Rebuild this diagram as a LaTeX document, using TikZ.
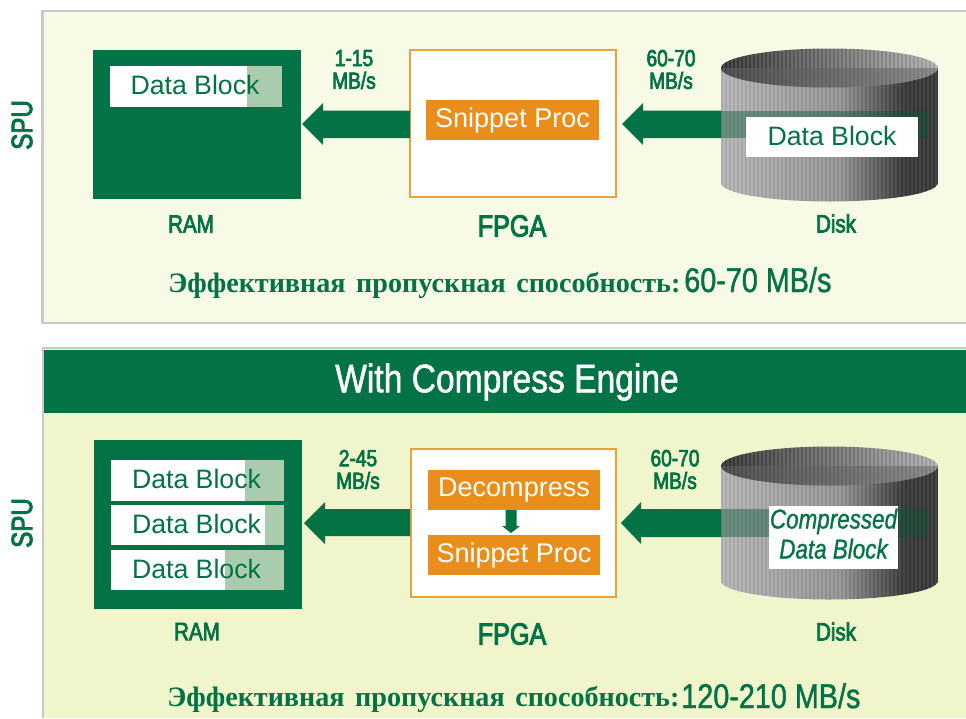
\documentclass[tikz,border=0pt]{standalone}
\usepackage{fontspec}
\setmainfont{Liberation Sans}
\newfontfamily\cnd[FakeStretch=0.84,FakeBold=1.2]{Liberation Sans}
\newfontfamily\cndb[FakeStretch=0.82,FakeBold=3]{Liberation Sans}
\newfontfamily\cndi[FakeStretch=0.82,FakeBold=1]{Liberation Sans Italic}
\newfontfamily\rus[WordSpace=1.5]{Liberation Serif Bold}
\definecolor{gr}{HTML}{037244}
\definecolor{orng}{HTML}{E98E1A}
\definecolor{pale}{HTML}{A8CCAD}
\definecolor{pnlA}{HTML}{F7FAE5}
\definecolor{pnlB}{HTML}{F1F5CC}
\definecolor{edge}{HTML}{C9C9C7}
\tikzset{
 x=0.75pt,y=-0.75pt,
 lbl/.style={text=gr,inner sep=0,align=center},
 ramlbl/.style={lbl,font=\cndb\fontsize{18.8}{18}\selectfont},
 fpgalbl/.style={lbl,font=\cndb\fontsize{23}{23}\selectfont},
 rate/.style={lbl,font=\cndb\fontsize{17.5}{17}\selectfont},
 spu/.style={lbl,font=\cndb\fontsize{22}{22}\selectfont,rotate=90},
 blk/.style={lbl,font=\fontsize{20}{20}\selectfont},
 proc/.style={inner sep=0,outer sep=0,text=white,font=\fontsize{20.3}{20}\selectfont},
 big/.style={lbl,font=\cnd\fontsize{25.7}{25}\selectfont},
 rusl/.style={lbl,font=\rus\fontsize{21.1}{21}\selectfont},
}
\newcommand{\whitebar}[6]{% name x0 y0 x1 y1 shadeX
 \fill[white] (#2,#3) rectangle (#6,#5);
 \fill[pale] (#6,#3) rectangle (#4,#5);
 \node[blk] (#1) at ({(#2+#4)/2-1},{(#3+#5)/2-1.5}) {Data Block};
}
\newcommand{\disk}[2]{% name, top centre y
 \pgfmathsetmacro{\yb}{#2+115}
 \begin{scope}
  \clip (721,#2) -- (721,\yb) arc[start angle=180,end angle=360,x radius=108.5,y radius=-18.5] -- (938,#2) arc[start angle=0,end angle=180,x radius=108.5,y radius=-19.5] -- cycle;
  \foreach \i in {0,...,108}{
    \pgfmathsetmacro{\t}{\i/108}
    \pgfmathsetmacro{\g}{\t<0.55 ? 30+12*(\t/0.55) : (\t<0.85 ? 42+(\t-0.55)/0.3*34 : 76)}
    \pgfmathsetmacro{\gg}{\g+(mod(\i,2)==0 ? 3 : -2.5)}
    \fill[black!\gg!white] ({721+\i*2},#2) rectangle ++(2.2,140);
  }
 \end{scope}
 \begin{scope}
  \clip (829.5,#2) ellipse[x radius=108.5,y radius=19.5];
  \foreach \i in {0,...,108}{
    \pgfmathsetmacro{\t}{\i/108}
    \pgfmathsetmacro{\g}{76-44*\t}
    \pgfmathsetmacro{\gg}{\g+(mod(\i,2)==0 ? 5 : -4)}
    \fill[black!\gg!white] ({721+\i*2},#2-20) rectangle ++(2.2,60);
  }
  \fill[black!62!white,opacity=.5] (700,#2) rectangle (950,#2+22);
 \end{scope}
 \coordinate (#1) at (829.5,#2);
}
\begin{document}
\begin{tikzpicture}
\useasboundingbox (0,0) rectangle (966,718);
\fill[white] (0,0) rectangle (966,718);
% ---- top panel
\fill[edge] (41,9.5) rectangle (966,323.5);
\fill[pnlA] (43.5,11.5) rectangle (966,321.5);
\node[spu] (spuA) at (22,125) {SPU};
% RAM
\node[fill=gr,outer sep=0,minimum width=208*0.75pt,minimum height=149*0.75pt,inner sep=0,anchor=north west] (ramA) at (92.5,50) {};
\whitebar{dbA}{110}{66}{282}{107}{247}
\node[ramlbl] (ramlA) at (191,224) {RAM};
% FPGA
\node[draw=orng!85!white,line width=1.5pt,fill=white,outer sep=0,minimum width=206*0.75pt,minimum height=147*0.75pt,inner sep=0,anchor=north west] (fpgaA) at (410,50) {};
\node[proc,fill=orng,minimum width=173*0.75pt,minimum height=40*0.75pt,anchor=north west] (snA) at (426,100) {\raisebox{-0.6pt}{Snippet Proc}};
\node[fpgalbl] (fpgalA) at (512,226) {FPGA};
% disk
\disk{dkA}{68}
\fill[gr!75!black,opacity=.42] (721,110.5) rectangle (928,138);
\fill[gr] (721,110.5) -- (643,110.5) -- (643,103) -- (622,124) -- (643,145) -- (643,138) -- (721,138) -- cycle;
\fill[gr] (410,110.5) -- (323,110.5) -- (323,103) -- (302,124) -- (323,145) -- (323,138) -- (410,138) -- cycle;
\node[blk,fill=white,minimum width=172*0.75pt,minimum height=40*0.75pt] (ddA) at (832,137) {\raisebox{1.1pt}{Data Block}};
\node[ramlbl] (disklA) at (836,223.5) {Disk};
\node[rate] (r1A) at (354,69.5) {1-15\\MB/s};
\node[rate] (r2A) at (671,69.5) {60-70\\MB/s};
\node[rusl,anchor=base west] (effA) at (168,292) {Эффективная пропускная способность:};
\node[big,anchor=base west] (valA) at (684,292) {60-70 MB/s};
% ---- bottom panel
\fill[edge] (42,347) rectangle (966,718);
\fill[pnlB] (44,349) rectangle (966,718);
\fill[gr] (44,350) rectangle (966,413);
\node[text=white,inner sep=0,font=\cnd\fontsize{30}{30}\selectfont] (title) at (507,382) {With Compress Engine};
\node[spu] (spuB) at (22,523) {SPU};
\node[fill=gr,outer sep=0,minimum width=208*0.75pt,minimum height=169*0.75pt,inner sep=0,anchor=north west] (ramB) at (93.5,440) {};
\whitebar{dbB}{111}{460}{284}{501}{245}
\whitebar{dbC}{111}{505}{284}{545}{264.5}
\whitebar{dbD}{111}{550}{284}{590}{225}
\node[ramlbl] (ramlB) at (197,631.5) {RAM};
\node[draw=orng!85!white,line width=1.5pt,fill=white,outer sep=0,minimum width=205*0.75pt,minimum height=148*0.75pt,inner sep=0,anchor=north west] (fpgaB) at (411,448.5) {};
\node[proc,fill=orng,minimum width=172*0.75pt,minimum height=40*0.75pt,anchor=north west] (deB) at (428,470) {\raisebox{-0.6pt}{Decompress}};
\node[proc,fill=orng,minimum width=172*0.75pt,minimum height=40*0.75pt,anchor=north west] (snB) at (428,535) {\raisebox{-0.6pt}{Snippet Proc}};
\fill[gr] (505.5,510) -- (516.5,510) -- (516.5,526) -- (520,526) -- (511,533) -- (502,526) -- (505.5,526) -- cycle;
\node[fpgalbl] (fpgalB) at (512,634) {FPGA};
\disk{dkB}{466}
\fill[gr!75!black,opacity=.42] (721,509) rectangle (928,537);
\fill[gr] (721,509) -- (641,509) -- (641,502) -- (621,523) -- (641,544) -- (641,537) -- (721,537) -- cycle;
\fill[gr] (410,509) -- (325,509) -- (325,502) -- (304,523) -- (325,544) -- (325,536) -- (410,536) -- cycle;
\node[fill=white,text=gr,align=center,inner sep=0,minimum width=129*0.75pt,minimum height=63*0.75pt,font=\cndi\fontsize{20.5}{22.5}\selectfont] (ddB) at (833.5,537.5) {\begin{tabular}{@{}c@{}}Compressed\\[0pt]Data Block\end{tabular}};
\node[ramlbl] (disklB) at (836,631.5) {Disk};
\node[rate] (r1B) at (358,469.5) {2-45\\MB/s};
\node[rate] (r2B) at (675,469.5) {60-70\\MB/s};
\node[rusl,anchor=base west] (effB) at (167,706) {Эффективная пропускная способность:};
\node[big,anchor=base west] (valB) at (681,708) {120-210 MB/s};
\end{tikzpicture}
\end{document}
